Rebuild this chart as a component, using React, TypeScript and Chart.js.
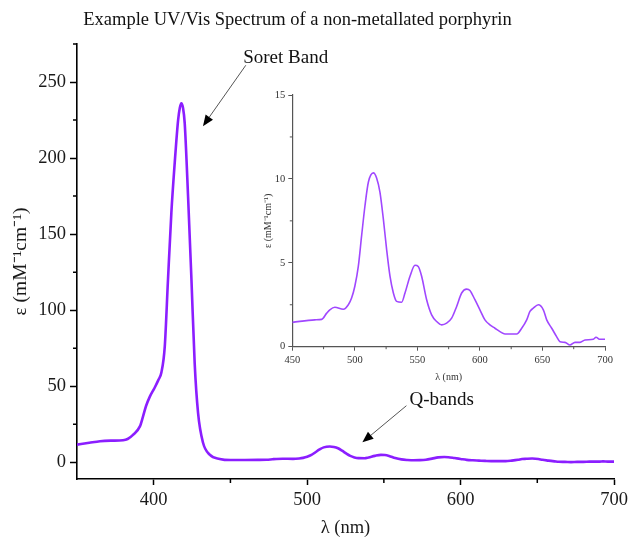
import React, { useEffect, useRef } from 'react';
import { Chart, registerables } from 'chart.js';

Chart.register(...registerables);

// ---- Data ----
const soretWavelengths = [350, 358, 365, 372, 380, 383, 386.5, 391, 393, 395, 397.4, 400.6, 403, 405, 407.2, 409.3, 411.5, 413.7, 415.9, 417, 418, 419.1, 420.2, 422.4, 424.6, 426.7, 428.9, 432.1, 436.5, 443];
const soretValues = [11.6, 12.8, 13.8, 14.2, 14.5, 15.3, 18, 23.6, 30, 37, 43, 49, 54, 59, 76, 120, 164, 197, 225, 233, 236, 233, 223, 174.6, 120, 65, 32.5, 13, 5, 2.2];

const qWavelengths = [450, 468, 473.5, 477.5, 480, 484, 490.8, 494.8, 497.4, 500, 502.8, 505.4, 508.1, 510.8, 514.8, 517.4, 520.1, 522.8, 525.4, 528.1, 530.8, 533.4, 537.4, 540.1, 544.1, 548.1, 550.7, 553.4, 557.4, 561.4, 565.4, 569.4, 573.4, 577.4, 581.4, 585.4, 589.4, 592, 596, 600, 604, 608, 612, 616, 620, 629.4, 633.4, 637.4, 640, 642.7, 646.7, 650.7, 653.4, 657.4, 661.3, 664, 668, 672, 676, 680, 684, 690.7, 692.8, 696, 700];
const qValues = [1.45, 1.6, 1.63, 2.0, 2.2, 2.35, 2.23, 2.5, 2.9, 3.6, 4.8, 6.6, 8.4, 9.8, 10.36, 10.06, 9.2, 7.6, 5.8, 4.2, 3.2, 2.7, 2.65, 3.2, 4.2, 4.85, 4.78, 4.2, 2.8, 1.9, 1.5, 1.3, 1.4, 1.7, 2.4, 3.2, 3.43, 3.35, 2.8, 2.2, 1.6, 1.3, 1.1, 0.9, 0.76, 0.76, 1.1, 1.6, 2.1, 2.3, 2.5, 2.2, 1.6, 1.1, 0.6, 0.3, 0.26, 0.1, 0.26, 0.26, 0.4, 0.44, 0.56, 0.44, 0.44];

const mainXTicks = [400, 500, 600, 700];
const mainXMinor = [450, 550, 650];
const mainYTicks = [0, 50, 100, 150, 200, 250];
const mainYMinor = [25, 75, 125, 175, 225, 275];

const insetXTicks = [450, 500, 550, 600, 650, 700];
const insetXMinor = [475, 525, 575, 625, 675];
const insetYTicks = [0, 5, 10, 15];
const insetYMinor = [2.5, 7.5, 12.5];

const TITLE = 'Example UV/Vis Spectrum of a non-metallated porphyrin';
const Y_TITLE = 'ε (mM⁻¹cm⁻¹)';
const X_TITLE = 'λ (nm)';

const SERIF = "'Liberation Serif', 'Times New Roman', serif";
const MAIN_COLOR = '#8B1EFF';
const INSET_COLOR = '#A047FF';

function minorTicksPlugin(xs: number[], ys: number[], len: number, color: string, width: number) {
  return {
    id: 'minorTicks',
    afterDraw(chart: any) {
      const { ctx, chartArea, scales } = chart;
      ctx.save();
      ctx.strokeStyle = color;
      ctx.lineWidth = width;
      ctx.beginPath();
      xs.forEach((v) => {
        const px = scales.x.getPixelForValue(v);
        ctx.moveTo(px, chartArea.bottom);
        ctx.lineTo(px, chartArea.bottom + len);
      });
      ys.forEach((v) => {
        const py = scales.y.getPixelForValue(v);
        ctx.moveTo(chartArea.left, py);
        ctx.lineTo(chartArea.left - len, py);
      });
      ctx.stroke();
      ctx.restore();
    },
  };
}

function drawArrow(ctx: CanvasRenderingContext2D, x1: number, y1: number, x2: number, y2: number) {
  const ang = Math.atan2(y2 - y1, x2 - x1);
  const headLen = 11;
  const headW = 4.5;
  const bx = x2 - headLen * Math.cos(ang);
  const by = y2 - headLen * Math.sin(ang);
  ctx.save();
  ctx.strokeStyle = '#555';
  ctx.lineWidth = 1;
  ctx.beginPath();
  ctx.moveTo(x1, y1);
  ctx.lineTo(bx, by);
  ctx.stroke();
  ctx.fillStyle = '#000';
  ctx.beginPath();
  ctx.moveTo(x2, y2);
  ctx.lineTo(bx + headW * Math.sin(ang), by - headW * Math.cos(ang));
  ctx.lineTo(bx - headW * Math.sin(ang), by + headW * Math.cos(ang));
  ctx.closePath();
  ctx.fill();
  ctx.restore();
}

const annotationsPlugin = {
  id: 'annotations',
  afterDraw(chart: any) {
    const { ctx, scales } = chart;
    const px = (v: number) => scales.x.getPixelForValue(v);
    const py = (v: number) => scales.y.getPixelForValue(v);
    ctx.save();
    ctx.fillStyle = '#111';
    ctx.textAlign = 'center';
    ctx.textBaseline = 'middle';
    ctx.font = `18.5px ${SERIF}`;
    ctx.fillText(TITLE, 297.5, 20);
    ctx.font = `19px ${SERIF}`;
    ctx.fillText('Soret Band', px(486), py(266));
    ctx.fillText('Q-bands', px(587.7), py(41));
    ctx.restore();
    drawArrow(ctx, px(460), py(261), px(432.1), py(221));
    drawArrow(ctx, px(564.7), py(37.2), px(536), py(13.1));
  },
};

export default function App() {
  const mainRef = useRef<HTMLCanvasElement>(null);
  const insetRef = useRef<HTMLCanvasElement>(null);

  useEffect(() => {
    const mainPoints = [
      ...soretWavelengths.map((x, i) => ({ x, y: soretValues[i] })),
      ...qWavelengths.map((x, i) => ({ x, y: qValues[i] })),
    ];
    const insetPoints = qWavelengths.map((x, i) => ({ x, y: qValues[i] }));

    const main = new Chart(mainRef.current!, {
      type: 'line',
      data: {
        datasets: [
          {
            data: mainPoints,
            borderColor: MAIN_COLOR,
            borderWidth: 2.6,
            pointRadius: 0,
            cubicInterpolationMode: 'monotone',
            fill: false,
          },
        ],
      },
      options: {
        responsive: false,
        animation: false,
        layout: { padding: { top: 44, right: 16, left: 0, bottom: 0 } },
        plugins: { legend: { display: false }, tooltip: { enabled: false }, title: { display: false } },
        scales: {
          x: {
            type: 'linear',
            min: 350,
            max: 700,
            afterBuildTicks: (s: any) => {
              s.ticks = mainXTicks.map((v) => ({ value: v }));
            },
            afterFit: (s: any) => {
              s.height = 61;
              s.paddingLeft = 0;
              s.paddingRight = 0;
            },
            grid: { drawOnChartArea: false, drawTicks: true, tickLength: 6, tickColor: '#000', tickWidth: 1.5 },
            border: { display: true, color: '#000', width: 1.6 },
            ticks: { color: '#1a1a1a', font: { family: SERIF, size: 18.5 }, padding: 4, maxRotation: 0 },
            title: { display: true, text: X_TITLE, color: '#1a1a1a', font: { family: SERIF, size: 18.5 }, padding: { top: 0, bottom: 1 } },
          },
          y: {
            type: 'linear',
            min: -11,
            max: 275,
            afterBuildTicks: (s: any) => {
              s.ticks = mainYTicks.map((v) => ({ value: v }));
            },
            afterFit: (s: any) => {
              s.width = 77;
              s.paddingTop = 0;
              s.paddingBottom = 0;
            },
            grid: { drawOnChartArea: false, drawTicks: true, tickLength: 7, tickColor: '#000', tickWidth: 1.5 },
            border: { display: true, color: '#000', width: 1.6 },
            ticks: { color: '#1a1a1a', font: { family: SERIF, size: 18.5 }, padding: 4 },
            title: { display: true, text: Y_TITLE, color: '#1a1a1a', font: { family: SERIF, size: 19.5 }, padding: { top: 9, bottom: 0 } },
          },
        },
      },
      plugins: [minorTicksPlugin(mainXMinor, mainYMinor, 4, '#000', 1.5), annotationsPlugin],
    } as any);

    const inset = new Chart(insetRef.current!, {
      type: 'line',
      data: {
        datasets: [
          {
            data: insetPoints,
            borderColor: INSET_COLOR,
            borderWidth: 1.6,
            pointRadius: 0,
            cubicInterpolationMode: 'monotone',
            fill: false,
          },
        ],
      },
      options: {
        responsive: false,
        animation: false,
        layout: { padding: { top: 15, right: 20, left: 0, bottom: 0 } },
        plugins: { legend: { display: false }, tooltip: { enabled: false } },
        scales: {
          x: {
            type: 'linear',
            min: 450,
            max: 700,
            afterBuildTicks: (s: any) => {
              s.ticks = insetXTicks.map((v) => ({ value: v }));
            },
            afterFit: (s: any) => {
              s.height = 43.3;
              s.paddingLeft = 0;
              s.paddingRight = 0;
            },
            grid: { drawOnChartArea: false, drawTicks: true, tickLength: 4, tickColor: '#555', tickWidth: 1 },
            border: { display: true, color: '#555', width: 1.2 },
            ticks: { color: '#333', font: { family: SERIF, size: 10.5 }, padding: 3, maxRotation: 0 },
            title: { display: true, text: X_TITLE, color: '#333', font: { family: SERIF, size: 10 }, padding: { top: 0, bottom: 7 } },
          },
          y: {
            type: 'linear',
            min: 0,
            max: 15,
            afterBuildTicks: (s: any) => {
              s.ticks = insetYTicks.map((v) => ({ value: v }));
            },
            afterFit: (s: any) => {
              s.width = 47.3;
              s.paddingTop = 0;
              s.paddingBottom = 0;
            },
            grid: { drawOnChartArea: false, drawTicks: true, tickLength: 4, tickColor: '#555', tickWidth: 1 },
            border: { display: true, color: '#555', width: 1.2 },
            ticks: { color: '#333', font: { family: SERIF, size: 10.5 }, padding: 3 },
            title: { display: true, text: Y_TITLE, color: '#333', font: { family: SERIF, size: 10 }, padding: { top: 17, bottom: 0 } },
          },
        },
      },
      plugins: [minorTicksPlugin(insetXMinor, insetYMinor, 2.5, '#555', 1)],
    } as any);

    return () => {
      main.destroy();
      inset.destroy();
    };
  }, []);

  return (
    <div style={{ position: 'absolute', left: 0, top: 0, width: 630, height: 540, background: '#fff' }}>
      <canvas ref={mainRef} width={630} height={540} style={{ position: 'absolute', left: 0, top: 0 }} />
      <canvas ref={insetRef} width={380} height={310} style={{ position: 'absolute', left: 245, top: 80 }} />
    </div>
  );
}
